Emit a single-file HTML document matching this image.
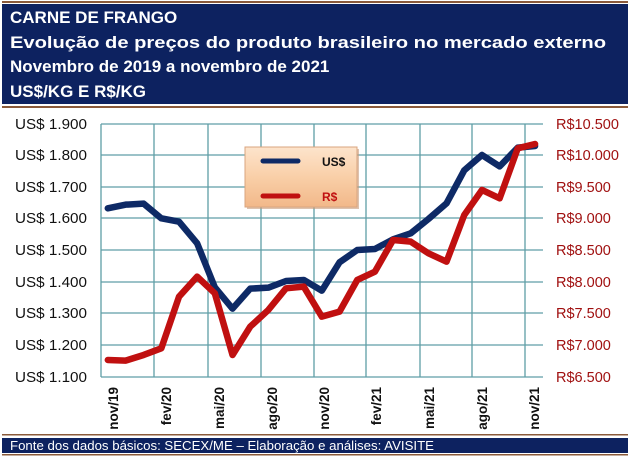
<!DOCTYPE html>
<html><head><meta charset="utf-8"><style>
html,body{margin:0;padding:0;background:#fff;}
svg{display:block;font-family:"Liberation Sans",Arial,sans-serif;}
</style></head><body>
<svg width="630" height="458" viewBox="0 0 630 458" xmlns="http://www.w3.org/2000/svg">
<defs>
<linearGradient id="lg" x1="0" y1="0" x2="0" y2="1">
<stop offset="0" stop-color="#fde4cc"/><stop offset="0.5" stop-color="#f9cfa8"/><stop offset="1" stop-color="#f2b88a"/>
</linearGradient>
</defs>
<rect x="0" y="0" width="630" height="458" fill="#fff"/>
<rect x="2" y="1" width="626" height="2" fill="#8a5a3a"/>
<rect x="2" y="4" width="626" height="100" fill="#0d2260"/>
<rect x="2" y="106" width="626" height="2" fill="#8a5a3a"/>
<g fill="#fff" font-weight="bold" font-size="17">
<text x="10" y="23">CARNE DE FRANGO</text>
<text x="10" y="48" textLength="596" lengthAdjust="spacingAndGlyphs">Evolução de preços do produto brasileiro no mercado externo</text>
<text x="10" y="72">Novembro de 2019 a novembro de 2021</text>
<text x="10" y="97">US$/KG E R$/KG</text>
</g>
<g stroke="#5f9ea6" stroke-width="1.3" fill="none">
<path d="M101 124H543M101 155H543M101 187H543M101 218H543M101 250H543M101 282H543M101 313H543M101 345H543M101 377H543"/>
<path d="M101 124V377M154 124V377M208 124V377M261 124V377M314 124V377M366 124V377M420 124V377M472 124V377M525 124V377"/>
</g>
<g font-size="14.5" fill="#111" text-anchor="end">
<text x="87" y="129" textLength="72" lengthAdjust="spacingAndGlyphs">US$ 1.900</text>
<text x="87" y="160" textLength="72" lengthAdjust="spacingAndGlyphs">US$ 1.800</text>
<text x="87" y="192" textLength="72" lengthAdjust="spacingAndGlyphs">US$ 1.700</text>
<text x="87" y="223" textLength="72" lengthAdjust="spacingAndGlyphs">US$ 1.600</text>
<text x="87" y="255" textLength="72" lengthAdjust="spacingAndGlyphs">US$ 1.500</text>
<text x="87" y="287" textLength="72" lengthAdjust="spacingAndGlyphs">US$ 1.400</text>
<text x="87" y="318" textLength="72" lengthAdjust="spacingAndGlyphs">US$ 1.300</text>
<text x="87" y="350" textLength="72" lengthAdjust="spacingAndGlyphs">US$ 1.200</text>
<text x="87" y="382" textLength="72" lengthAdjust="spacingAndGlyphs">US$ 1.100</text>
</g>
<g font-size="14.5" fill="#a01010">
<text x="556" y="129">R$10.500</text>
<text x="556" y="160">R$10.000</text>
<text x="556" y="192">R$9.500</text>
<text x="556" y="223">R$9.000</text>
<text x="556" y="255">R$8.500</text>
<text x="556" y="287">R$8.000</text>
<text x="556" y="318">R$7.500</text>
<text x="556" y="350">R$7.000</text>
<text x="556" y="382">R$6.500</text>
</g>
<g font-size="13.5" font-weight="bold" fill="#111" text-anchor="end">
<text transform="translate(118,387) rotate(-90)">nov/19</text>
<text transform="translate(171,387) rotate(-90)">fev/20</text>
<text transform="translate(224,387) rotate(-90)">mai/20</text>
<text transform="translate(277,387) rotate(-90)">ago/20</text>
<text transform="translate(329,387) rotate(-90)">nov/20</text>
<text transform="translate(381,387) rotate(-90)">fev/21</text>
<text transform="translate(434,387) rotate(-90)">mai/21</text>
<text transform="translate(487,387) rotate(-90)">ago/21</text>
<text transform="translate(539,387) rotate(-90)">nov/21</text>
</g>
<g transform="matrix(0.4023,0,0,0.3333,0,100)" fill="none" stroke-linejoin="round" stroke-linecap="round">
<polyline vector-effect="non-scaling-stroke" stroke="#0e2a66" stroke-width="6.5"
points="268,325 312,314 357,311 401,355 445,365 490,430 534,562 578,626 622,566 667,563 711,543 755,540 800,572 844,487 888,450 932,447 977,418 1021,400 1065,357 1110,310 1154,211 1198,165 1242,199 1287,143 1330,138"/>
<polyline vector-effect="non-scaling-stroke" stroke="#c01010" stroke-width="6.5"
points="268,780 312,782 357,765 401,745 445,590 490,530 534,580 578,765 622,680 667,630 711,565 755,560 800,650 844,635 888,540 932,515 977,420 1021,425 1065,460 1110,485 1154,345 1198,270 1242,295 1287,145 1330,132"/>
</g>
<rect x="247" y="149" width="112" height="60" fill="#c89a78" opacity="0.6"/>
<rect x="245" y="147" width="112" height="60" fill="url(#lg)" stroke="#d9a57f" stroke-width="1"/>
<line x1="263" y1="161" x2="298" y2="161" stroke="#0e2a66" stroke-width="5" stroke-linecap="round"/>
<line x1="263" y1="196" x2="298" y2="196" stroke="#c01010" stroke-width="5" stroke-linecap="round"/>
<text x="322" y="166" font-size="12" font-weight="bold" fill="#111">US$</text>
<text x="322" y="201" font-size="12" font-weight="bold" fill="#c01010">R$</text>
<rect x="2" y="434" width="626" height="1.5" fill="#8a5a3a"/>
<rect x="2" y="438" width="626" height="15" fill="#0d2260"/>
<rect x="2" y="454" width="626" height="1.5" fill="#8a5a3a"/>
<text x="10" y="450" font-size="12.5" fill="#fff" textLength="424" lengthAdjust="spacingAndGlyphs">Fonte dos dados básicos: SECEX/ME – Elaboração e análises: AVISITE</text>
</svg>
</body></html>
